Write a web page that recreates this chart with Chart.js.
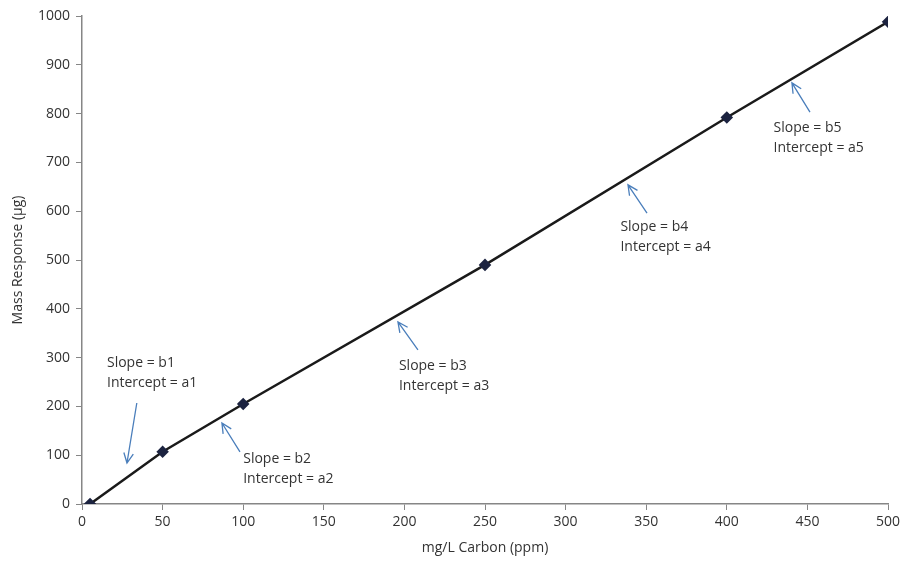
<!DOCTYPE html>
<html>
<head>
<meta charset="utf-8">
<script src="https://cdn.jsdelivr.net/npm/chart.js@4.4.0/dist/chart.umd.min.js"></script>
<style>
  html, body { margin: 0; padding: 0; background: #fff; }
  #wrap { width: 902px; height: 565px; }
</style>
</head>
<body>
<div id="wrap"><canvas id="chart" width="902" height="565"></canvas></div>
<script>
// dados
const concentracoes = [5, 50, 100, 250, 400, 500];
const respostas = [0, 107, 205, 490, 792, 988];

const xTicks = [0, 50, 100, 150, 200, 250, 300, 350, 400, 450, 500];
const yTicks = [0, 100, 200, 300, 400, 500, 600, 700, 800, 900, 1000];

// anotações (em coordenadas dos dados)
const notas = [
  { linhas: ['Slope = b1', 'Intercept = a1'], x: 15.5, y: 289, ponta: [27.9, 84], cauda: [34, 207] },
  { linhas: ['Slope = b2', 'Intercept = a2'], x: 100, y: 92, ponta: [86.8, 166], cauda: [98, 107] },
  { linhas: ['Slope = b3', 'Intercept = a3'], x: 196.6, y: 283, ponta: [196, 373], cauda: [208.4, 316] },
  { linhas: ['Slope = b4', 'Intercept = a4'], x: 334, y: 568, ponta: [338.7, 654], cauda: [350.5, 596] },
  { linhas: ['Slope = b5', 'Intercept = a5'], x: 429, y: 770, ponta: [440.4, 863], cauda: [451.6, 803] }
];

const fonte = '"Open Sans", "DejaVu Sans", sans-serif';

const notasPlugin = {
  id: 'notas',
  afterDatasetsDraw(chart) {
    const ctx = chart.ctx;
    const xs = chart.scales.x, ys = chart.scales.y;
    ctx.save();
    notas.forEach(n => {
      // seta
      const hx = xs.getPixelForValue(n.ponta[0]), hy = ys.getPixelForValue(n.ponta[1]);
      const tx = xs.getPixelForValue(n.cauda[0]), ty = ys.getPixelForValue(n.cauda[1]);
      ctx.strokeStyle = '#4a7ebb';
      ctx.lineWidth = 1.3;
      ctx.beginPath();
      ctx.moveTo(tx, ty);
      ctx.lineTo(hx, hy);
      const ang = Math.atan2(hy - ty, hx - tx);
      const len = 11;
      ctx.moveTo(hx - len * Math.cos(ang - 0.45), hy - len * Math.sin(ang - 0.45));
      ctx.lineTo(hx, hy);
      ctx.lineTo(hx - len * Math.cos(ang + 0.45), hy - len * Math.sin(ang + 0.45));
      ctx.stroke();
      // texto
      ctx.fillStyle = '#333';
      ctx.font = '14px ' + fonte;
      ctx.textAlign = 'left';
      ctx.textBaseline = 'middle';
      const px = xs.getPixelForValue(n.x), py = ys.getPixelForValue(n.y);
      n.linhas.forEach((l, i) => ctx.fillText(l, px, py + i * 20));
    });
    ctx.restore();
  }
};

const ctx = document.getElementById('chart').getContext('2d');
new Chart(ctx, {
  type: 'line',
  data: {
    datasets: [{
      data: concentracoes.map((c, i) => ({ x: c, y: respostas[i] })),
      borderColor: '#1a1a1a',
      borderWidth: 2.5,
      tension: 0,
      pointStyle: 'rectRot',
      pointRadius: 4.5,
      pointBackgroundColor: '#1c2340',
      pointBorderColor: '#1c2340',
      fill: false
    }]
  },
  options: {
    responsive: false,
    animation: false,
    layout: { padding: { top: 16, right: 14, left: 0, bottom: 0 } },
    plugins: { legend: { display: false }, tooltip: { enabled: false } },
    scales: {
      x: {
        type: 'linear',
        min: 0, max: 500,
        afterBuildTicks: s => { s.ticks = xTicks.map(v => ({ value: v })); },
        afterFit: s => { s.height = 61; s.paddingRight = 0; s.paddingLeft = 0; },
        grid: { drawOnChartArea: false, tickLength: 6, color: '#868686' },
        border: { color: '#868686', width: 1.5 },
        ticks: { color: '#333', font: { size: 14, family: fonte }, padding: 4, maxRotation: 0, callback: v => String(v) },
        title: { display: true, text: 'mg/L Carbon (ppm)', color: '#333', font: { size: 14, family: fonte }, padding: { top: 4, bottom: 9 } }
      },
      y: {
        min: 0, max: 1000,
        afterBuildTicks: s => { s.ticks = yTicks.map(v => ({ value: v })); },
        afterFit: s => { s.width = 82; },
        grid: { drawOnChartArea: false, tickLength: 6, color: '#868686' },
        border: { color: '#868686', width: 1.5 },
        ticks: { color: '#333', font: { size: 14, family: fonte }, padding: 6, callback: v => String(v) },
        title: { display: true, text: 'Mass Response (µg)', color: '#333', font: { size: 14, family: fonte }, padding: { top: 10, bottom: 4 } }
      }
    }
  },
  plugins: [notasPlugin]
});
</script>
</body>
</html>
